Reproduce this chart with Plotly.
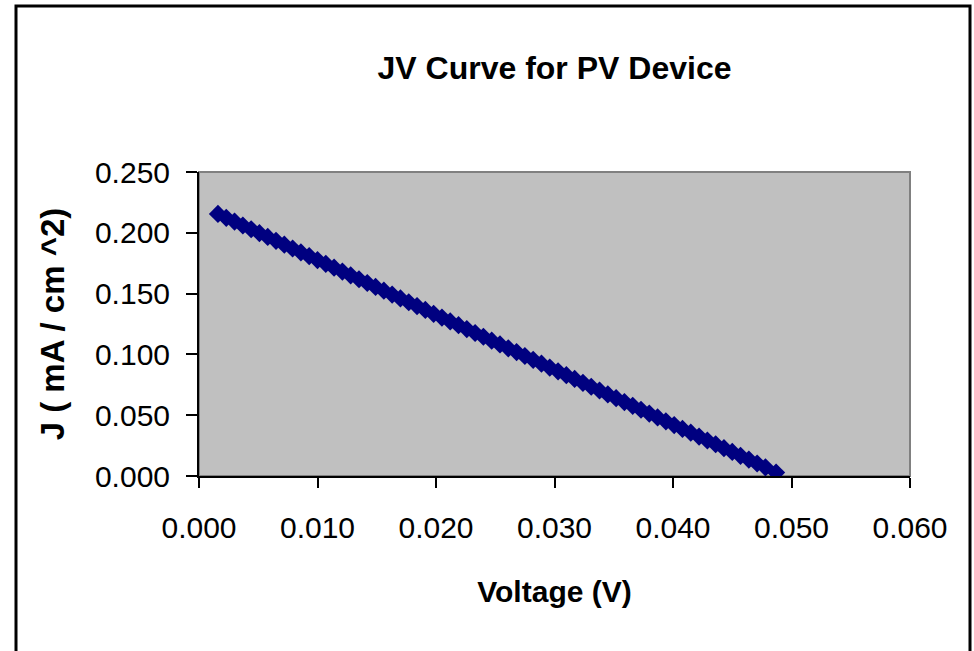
import plotly.graph_objects as go

voltage = [0.0016, 0.0023, 0.0030, 0.0037, 0.0044, 0.0051, 0.0058, 0.0065, 0.0072, 0.0079,
           0.0086, 0.0093, 0.0100, 0.0107, 0.0114, 0.0121, 0.0128, 0.0135, 0.0142, 0.0149,
           0.0156, 0.0163, 0.0170, 0.0177, 0.0184, 0.0191, 0.0198, 0.0205, 0.0212, 0.0219,
           0.0226, 0.0233, 0.0240, 0.0247, 0.0254, 0.0261, 0.0268, 0.0275, 0.0282, 0.0289,
           0.0296, 0.0303, 0.0310, 0.0317, 0.0324, 0.0331, 0.0338, 0.0345, 0.0352, 0.0359,
           0.0366, 0.0373, 0.0380, 0.0387, 0.0394, 0.0401, 0.0408, 0.0415, 0.0422, 0.0429,
           0.0436, 0.0443, 0.0450, 0.0457, 0.0464, 0.0471, 0.0478, 0.0487]
current_density = [0.2155, 0.2123, 0.2092, 0.2060, 0.2029, 0.1997, 0.1966, 0.1934, 0.1902, 0.1871,
                   0.1839, 0.1808, 0.1776, 0.1745, 0.1713, 0.1681, 0.1650, 0.1618, 0.1587, 0.1555,
                   0.1524, 0.1492, 0.1460, 0.1429, 0.1397, 0.1366, 0.1334, 0.1303, 0.1271, 0.1240,
                   0.1208, 0.1176, 0.1145, 0.1113, 0.1082, 0.1050, 0.1019, 0.0987, 0.0955, 0.0924,
                   0.0892, 0.0861, 0.0829, 0.0798, 0.0766, 0.0734, 0.0703, 0.0671, 0.0640, 0.0608,
                   0.0577, 0.0545, 0.0513, 0.0482, 0.0450, 0.0419, 0.0387, 0.0356, 0.0324, 0.0292,
                   0.0261, 0.0229, 0.0198, 0.0166, 0.0135, 0.0103, 0.0071, 0.0028]

x_ticks = [0.000, 0.010, 0.020, 0.030, 0.040, 0.050, 0.060]
y_ticks = [0.000, 0.050, 0.100, 0.150, 0.200, 0.250]

FONT = "Liberation Sans, Arial, sans-serif"

fig = go.Figure()
fig.add_trace(go.Scatter(
    x=voltage, y=current_density, mode="markers",
    marker=dict(symbol="diamond", size=14, color="#000080", line=dict(width=0)),
    showlegend=False,
))

fig.update_layout(
    width=974, height=651,
    margin=dict(l=199, r=64, t=172, b=175),
    paper_bgcolor="white",
    plot_bgcolor="#C0C0C0",
    font=dict(family=FONT, color="black"),
    title=dict(text="<b>JV Curve for PV Device</b>", x=0.5, xref="paper",
               y=1 - 68 / 651, yref="container", yanchor="middle",
               font=dict(size=32, family=FONT, color="black")),
    xaxis=dict(range=[0, 0.060], tickvals=x_ticks, ticktext=[f"{v:.3f}" for v in x_ticks],
               showgrid=False, zeroline=False, showline=True, linecolor="black", linewidth=2,
               ticks="outside", ticklen=10, tickwidth=2, tickcolor="black",
               tickfont=dict(size=30, family=FONT), ticklabelstandoff=14,
               title=dict(text="<b>Voltage (V)</b>", font=dict(size=30, family=FONT), standoff=38)),
    yaxis=dict(range=[0, 0.250], tickvals=y_ticks, ticktext=[f"{v:.3f}" for v in y_ticks],
               showgrid=False, zeroline=False, showline=True, linecolor="black", linewidth=2,
               ticks="outside", ticklen=11, tickwidth=2, tickcolor="black",
               tickfont=dict(size=30, family=FONT), ticklabelstandoff=10,
               title=dict(text="<b>J ( mA / cm ^2)</b>", font=dict(size=33, family=FONT), standoff=20)),
    shapes=[
        dict(type="rect", xref="paper", yref="paper", x0=0, x1=1, y0=0, y1=1,
             line=dict(color="#808080", width=2), layer="below"),
        dict(type="rect", xref="paper", yref="paper",
             x0=(16 - 199) / 711, x1=(970 - 199) / 711,
             y0=(476 - 660) / 304, y1=(476 - 6) / 304,
             line=dict(color="black", width=3), fillcolor="rgba(0,0,0,0)", layer="below"),
    ],
)

fig.write_html("out.html", config={"displayModeBar": False},
               post_script="document.body.style.margin='0px';")
